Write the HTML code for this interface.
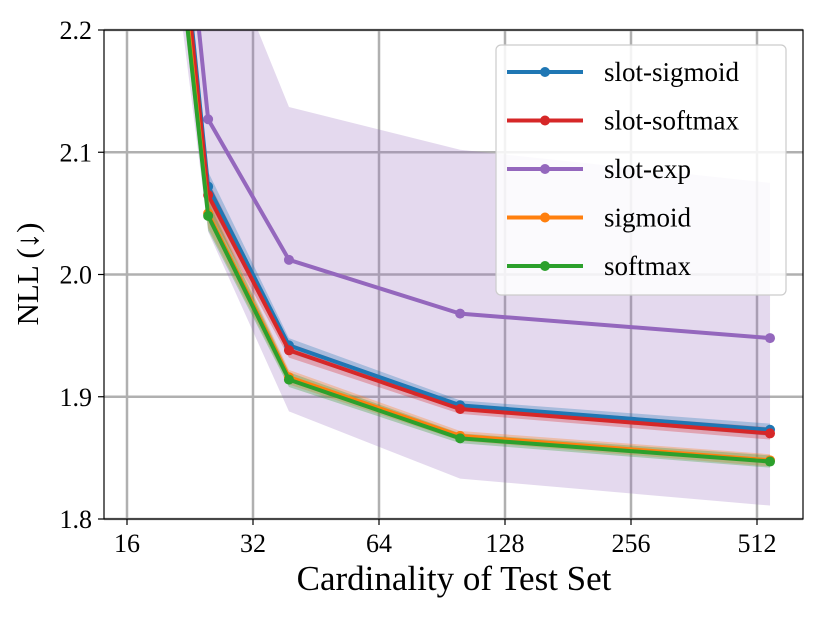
<!DOCTYPE html>
<html><head><meta charset="utf-8"><style>
body{margin:0;background:#fff}
svg text{font-family:"Liberation Serif","DejaVu Serif",serif;fill:#000}
</style></head><body>
<svg id="chart" width="822" height="617" xmlns="http://www.w3.org/2000/svg"></svg>
<script>
const xs = [20, 25, 39, 100, 550];
const xTicks = [16, 32, 64, 128, 256, 512];
const yTicks = [1.8, 1.9, 2.0, 2.1, 2.2];
const seriesNames = ["slot-sigmoid", "slot-softmax", "slot-exp", "sigmoid", "softmax"];
const seriesColors = ["#1f77b4", "#d62728", "#9467bd", "#ff7f0e", "#2ca02c"];
const slotSigmoid = [2.40, 2.072, 1.942, 1.893, 1.873];
const slotSoftmax = [2.39, 2.065, 1.938, 1.890, 1.870];
const slotExp = [2.45, 2.127, 2.012, 1.968, 1.948];
const sigmoid = [2.36, 2.050, 1.916, 1.868, 1.848];
const softmax = [2.35, 2.048, 1.914, 1.866, 1.847];
const slotExpUpper = [2.60, 2.30, 2.137, 2.102, 2.075];
const slotExpLower = [2.30, 2.035, 1.888, 1.833, 1.811];
const bandHalf = [0.02, 0.012, 0.006, 0.004, 0.005];
const allSeries = [slotSigmoid, slotSoftmax, slotExp, sigmoid, softmax];

const L=104,R=803,T=30,B=519;
const X=v=>127+126*Math.log2(v/16);
const Y=v=>B-(v-1.8)/(0.4)*(B-T);
const svg=document.getElementById('chart');
const NS="http://www.w3.org/2000/svg";
function mk(tag,attrs,parent){const e=document.createElementNS(NS,tag);for(const k in attrs)e.setAttribute(k,attrs[k]);(parent||svg).appendChild(e);return e;}
const defs=mk('defs',{});const cp=mk('clipPath',{id:'c'},defs);mk('rect',{x:L,y:T,width:R-L,height:B-T},cp);
xTicks.forEach(t=>{const l=mk('line',{x1:X(t),x2:X(t),y1:T,y2:B,stroke:'#b0b0b0','stroke-width':2.5});

});
yTicks.forEach(t=>{const l=mk('line',{x1:L,x2:R,y1:Y(t),y2:Y(t),stroke:'#b0b0b0','stroke-width':2.5});

});
const g=mk('g',{'clip-path':'url(#c)'});
function band(lo,hi,color,op,name){
  let d='M'+xs.map((x,i)=>X(x)+','+Y(hi[i])).join('L')+'L'+xs.slice().reverse().map((x,j)=>{const i=xs.length-1-j;return X(x)+','+Y(lo[i]);}).join('L')+'Z';
  const p=mk('path',{d:d,fill:color,'fill-opacity':op},g);
  
  
}
band(slotExpLower,slotExpUpper,'#9467bd',0.25,'slot-exp-band');
allSeries.forEach((s,k)=>{if(k===2)return;
  band(s.map((v,i)=>v-bandHalf[i]),s.map((v,i)=>v+bandHalf[i]),seriesColors[k],0.3,seriesNames[k]+'-band');});
const order=[2,0,1,3,4];
order.forEach(k=>{const s=allSeries[k];
  const pl=mk('polyline',{points:xs.map((x,i)=>X(x)+','+Y(s[i])).join(' '),fill:'none',stroke:seriesColors[k],'stroke-width':4,'stroke-linejoin':'round'},g);
  
  
  s.forEach((v,i)=>{const c=mk('circle',{cx:X(xs[i]),cy:Y(v),r:5,fill:seriesColors[k]},g);
    
    });
});
const fr=mk('rect',{x:L,y:T,width:R-L,height:B-T,fill:'none',stroke:'#000','stroke-width':1.2});


xTicks.forEach(t=>{mk('line',{x1:X(t),x2:X(t),y1:B,y2:B+6,stroke:'#000','stroke-width':1.2});
  const tx=mk('text',{x:X(t),y:B+33,'font-size':26,'text-anchor':'middle'});tx.textContent=t;
  
  });
yTicks.forEach(t=>{mk('line',{x1:L-6,x2:L,y1:Y(t),y2:Y(t),stroke:'#000','stroke-width':1.2});
  const tx=mk('text',{x:L-12,y:Y(t)+9,'font-size':26,'text-anchor':'end'});tx.textContent=t.toFixed(1);
  
  });
const xt=mk('text',{x:454,y:590,'font-size':35,'text-anchor':'middle'});xt.textContent='Cardinality of Test Set';


const yt=mk('text',{x:0,y:0,'font-size':31,'text-anchor':'middle',transform:'translate(38,274) rotate(-90)'});yt.textContent='NLL (↓)';


const lg=mk('g',{});


mk('rect',{x:496,y:45,width:290,height:250,rx:5,fill:'#fff','fill-opacity':0.85,stroke:'#ccc','stroke-width':1.2},lg);
seriesNames.forEach((n,k)=>{const y=72+48.5*k;
  const e=mk('g',{},lg);
  
  
  mk('line',{x1:507,x2:583,y1:y,y2:y,stroke:seriesColors[k],'stroke-width':4},e);
  mk('circle',{cx:545,cy:y,r:5,fill:seriesColors[k]},e);
  const t=mk('text',{x:604,y:y+9,'font-size':27},e);t.textContent=n;});
</script>
</body></html>
